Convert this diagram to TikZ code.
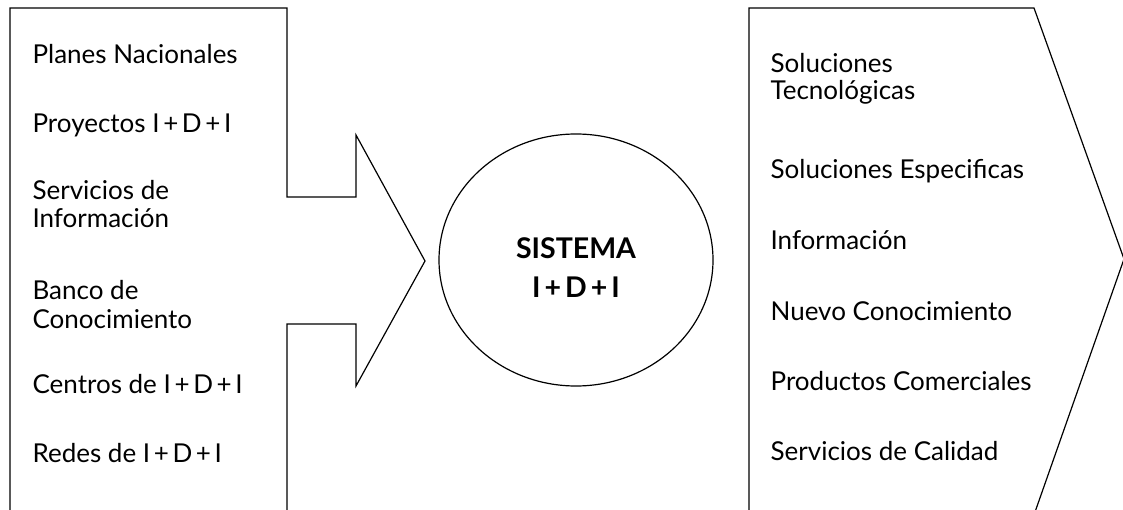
\documentclass[tikz,border=0pt]{standalone}
\usepackage{fontspec}
\setmainfont{Lato}
\usetikzlibrary{positioning}

\begin{document}
\begin{tikzpicture}[y=-1pt,x=1pt,line width=1.2pt]
	\newcommand\IDI{I\hspace{.14em}+\hspace{.14em}D\hspace{.14em}+\hspace{.14em}I}
	\tikzset{item/.style={anchor=base west,inner sep=0pt,font=\fontsize{26}{30}\selectfont}}

	\useasboundingbox (0,0) rectangle (1123,510);
	\clip (0,0) rectangle (1123,510);

	% inputs with the notched arrow
	\draw (10,520) -- (10,8) -- (287,8) -- (287,197) -- (356,197) -- (356,135)
		-- (425,261) -- (356,386) -- (356,324) -- (287,324) -- (287,520);
	% the system
	\draw (576,260) ellipse (137 and 126);
	% outputs
	\draw (749,520) -- (749,8) -- (1034,8) -- (1124,259) -- (1035,512);

	\node[item] (planes) at (32,64) {Planes Nacionales};
	\node[item] (proyectos) at (32,133) {Proyectos \IDI};
	\node[item] (servicios) at (32,200) {Servicios de};
	\node[item] (informacion) at (32,228) {Información};
	\node[item] (banco) at (32,300) {Banco de};
	\node[item] (conocimiento) at (32,328) {Conocimiento};
	\node[item] (centros) at (32,393) {Centros de \IDI};
	\node[item] (redes) at (32,462) {Redes de \IDI};

	\node[anchor=center,align=center,inner sep=0pt,font=\bfseries\fontsize{28.5}{39}\selectfont] (sistema) at (576,268) {SISTEMA\\\IDI};

	\node[item] (soluciones) at (770,73) {Soluciones};
	\node[item] (tecnologicas) at (770,100) {Tecnológicas};
	\node[item] (especificas) at (770,179) {Soluciones Especificas};
	\node[item] (info) at (770,250) {Información};
	\node[item] (nuevo) at (770,320) {Nuevo Conocimiento};
	\node[item] (productos) at (770,390) {Productos Comerciales};
	\node[item] (calidad) at (770,460) {Servicios de Calidad};
\end{tikzpicture}
\end{document}
